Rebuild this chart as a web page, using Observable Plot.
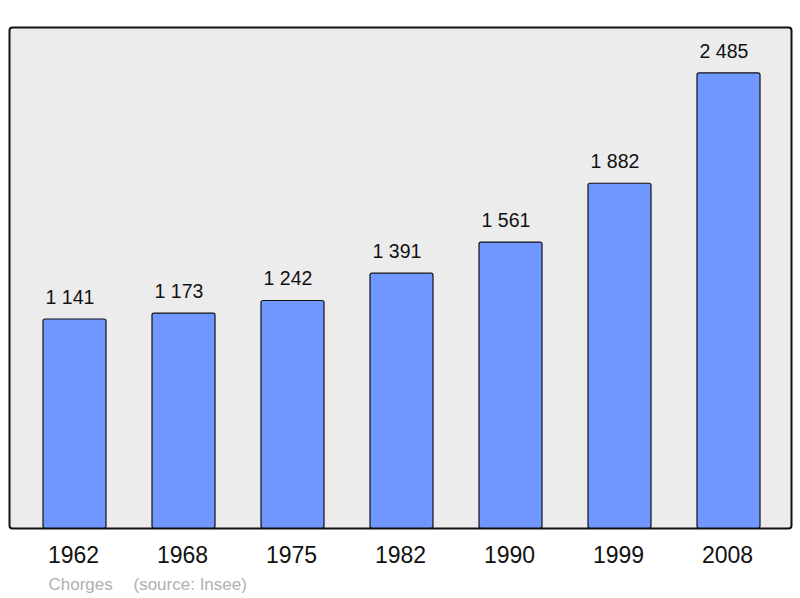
<!DOCTYPE html>
<html>
<head>
<meta charset="utf-8">
<script src="https://cdn.jsdelivr.net/npm/d3@7"></script>
<script src="https://cdn.jsdelivr.net/npm/@observablehq/plot@0.6"></script>
<style>
body { margin: 0; background: #fff; }
svg { display: block; }
</style>
</head>
<body>
<div id="chart"></div>
<script>
const years = ["1962", "1968", "1975", "1982", "1990", "1999", "2008"];
const population = [1141, 1173, 1242, 1391, 1561, 1882, 2485];
const place = "Chorges";
const source = "(source: Insee)";

const data = years.map((y, i) => ({year: y, pop: population[i]}));
const fmt = v => d3.format(",")(v).replace(/,/g, " ");

const chart = Plot.plot({
  width: 800,
  height: 598,
  marginLeft: 42,
  marginRight: 39,
  marginTop: 27,
  marginBottom: 70,
  style: {fontFamily: "Liberation Sans, Arial, sans-serif", background: "#fff"},
  x: {domain: years, paddingInner: 0.424, paddingOuter: 0, axis: null},
  y: {domain: [0, 2735], axis: null},
  marks: [
    Plot.frame({fill: "#ececec", stroke: "#111", strokeWidth: 2, rx: 3,
      insetLeft: -33, insetRight: -30, insetTop: 0, insetBottom: 0}),
    Plot.barY(data, {x: "year", y: "pop", fill: "#7097ff", stroke: "#111", strokeWidth: 1.2, rx: 2}),
    Plot.text(data, {x: "year", y: "pop", text: d => fmt(d.pop), dx: -5, dy: -22, fontSize: 19.5, fill: "#111"}),
    Plot.text(data, {x: "year", text: "year", frameAnchor: "bottom", dx: -1.5, dy: 34.5, fontSize: 23, fill: "#111"}),
    Plot.text([place], {text: d => d, frameAnchor: "bottom-left", textAnchor: "start", dx: 6, dy: 61, fontSize: 17, fill: "#b0b0b0"}),
    Plot.text([source], {text: d => d, frameAnchor: "bottom-left", textAnchor: "start", dx: 91, dy: 61, fontSize: 17, fill: "#b0b0b0"})
  ]
});
document.getElementById("chart").appendChild(chart);
</script>
</body>
</html>
